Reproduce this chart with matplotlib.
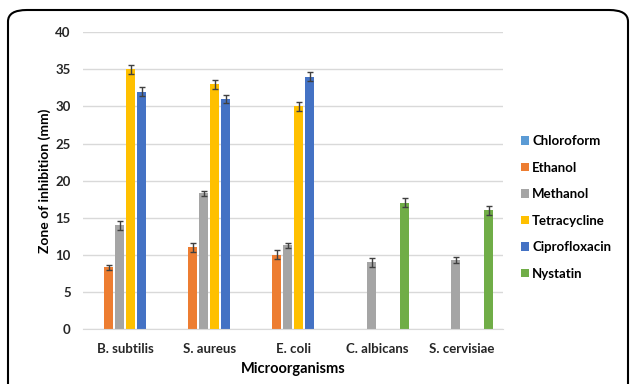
import numpy as np
import matplotlib.pyplot as plt
from matplotlib.patches import FancyBboxPatch

plt.rcParams['font.family'] = ['Lato', 'DejaVu Sans']
plt.rcParams['font.weight'] = 'bold'

organisms = ['B. subtilis', 'S. aureus', 'E. coli', 'C. albicans', 'S. cervisiae']
agents = ['Chloroform', 'Ethanol', 'Methanol', 'Tetracycline', 'Ciprofloxacin', 'Nystatin']
colors = ['#5B9BD5', '#ED7D31', '#A5A5A5', '#FFC000', '#4472C4', '#70AD47']

chloroform = [0, 0, 0, 0, 0]
ethanol = [8.3, 11, 10, 0, 0]
methanol = [14, 18.3, 11.3, 9, 9.3]
tetracycline = [35, 33, 30, 0, 0]
ciprofloxacin = [32, 31, 34, 0, 0]
nystatin = [0, 0, 0, 17, 16]

chloroform_err = [0, 0, 0, 0, 0]
ethanol_err = [0.4, 0.6, 0.6, 0, 0]
methanol_err = [0.6, 0.35, 0.35, 0.6, 0.35]
tetracycline_err = [0.6, 0.6, 0.6, 0, 0]
ciprofloxacin_err = [0.6, 0.5, 0.6, 0, 0]
nystatin_err = [0, 0, 0, 0.6, 0.6]

values = [chloroform, ethanol, methanol, tetracycline, ciprofloxacin, nystatin]
errors = [chloroform_err, ethanol_err, methanol_err, tetracycline_err,
          ciprofloxacin_err, nystatin_err]

fig = plt.figure(figsize=(6.3, 3.84), dpi=100)
ax = fig.add_axes([0.132, 0.143, 0.667, 0.773])

x = np.arange(len(organisms))
slot = 0.131
width = 0.107
for i, (vals, errs) in enumerate(zip(values, errors)):
    offs = (i - 2.5) * slot
    vals = np.array(vals, dtype=float)
    errs = np.array(errs, dtype=float)
    show = vals > 0
    ax.bar(x + offs, vals, width, color=colors[i], label=agents[i], zorder=2)
    ax.errorbar((x + offs)[show], vals[show], yerr=errs[show], fmt='none',
                ecolor='#404040', elinewidth=1, capsize=2.5, capthick=1, zorder=3)

ax.set_xlim(-0.5, 4.5)
ax.set_ylim(0, 40)
ax.set_yticks(range(0, 41, 5))
ax.set_xticks(x)
ax.set_xticklabels(organisms)
ax.grid(axis='y', color='#D9D9D9', linewidth=1, zorder=0)
ax.set_axisbelow(True)
for s in ['top', 'right', 'left']:
    ax.spines[s].set_visible(False)
ax.spines['bottom'].set_color('#D9D9D9')
ax.tick_params(axis='both', length=0, labelsize=9.5, colors='#262626')
ax.tick_params(axis='y', pad=9)
ax.tick_params(axis='x', pad=10)
ax.set_ylabel('Zone of inhibition (mm)', fontsize=10, fontweight='bold', labelpad=3)
ax.set_xlabel('Microorganisms', fontsize=10.5, fontweight='bold', labelpad=5)

handles, labels = ax.get_legend_handles_labels()
fig.legend(handles, labels, loc='upper left', bbox_to_anchor=(0.808, 0.679),
           frameon=False, fontsize=9.5, handlelength=0.65, handleheight=0.65,
           handletextpad=0.2, labelspacing=1.1)

frame = FancyBboxPatch((8 / 630, -20 / 384), 620 / 630, 394 / 384,
                       boxstyle='round,pad=0,rounding_size=0.03',
                       transform=fig.transFigure, fill=False,
                       edgecolor='black', linewidth=1.5, clip_on=False)
fig.patches.append(frame)

fig.savefig('out.png', dpi=100)
